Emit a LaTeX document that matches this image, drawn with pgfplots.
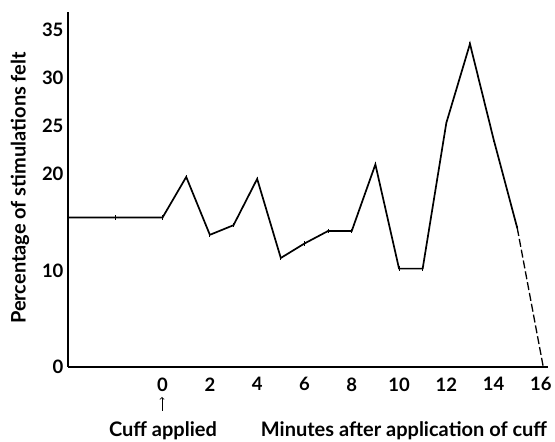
\documentclass[border=0pt]{standalone}
\usepackage{fontspec}
\setmainfont{Lato}
\usepackage{pgfplots}
\pgfplotsset{compat=1.18}
\begin{document}
\begin{tikzpicture}
\path[use as bounding box] (-68pt,-75pt) rectangle (487pt,367pt);
\begin{axis}[
  at={(0,0)}, anchor=south west,
  scale only axis,
  width=480pt, height=355pt,
  xmin=-4, xmax=16.3,
  ymin=0, ymax=36.8,
  axis lines=left,
  axis line style={-, line width=2pt},
  xtick={0,2,4,6,8,10,12,14,16},
  ytick={0,10,20,25,30,35},
  major tick length=0pt,
  tick label style={font=\fontsize{18.5}{20}\selectfont\bfseries},
  yticklabel style={xshift=-1pt},
  xticklabel style={yshift=-7pt},
  /pgf/number format/assume math mode=true,
  clip=false,
]
\addplot[black, line width=1.7pt, mark=|, mark size=2.2pt, mark options={line width=1pt}] coordinates {
(-4,15.5) (-2,15.5) (0,15.5) (1,19.7) (2,13.7) (3,14.7) (4,19.5) (5,11.3) (6,12.8) (7,14.1) (8,14.1) (9,21.0) (10,10.2) (11,10.2) (12,25.3) (13,33.5) (14,23.6) (15,14.4)
};
\addplot[black, line width=1.3pt, dash pattern=on 8pt off 3pt] coordinates {(15,14.4) (16.1,0)};
\end{axis}
\node[rotate=90, font=\fontsize{20}{22}\selectfont\bfseries] at (-48pt,179pt) {Percentage of stimulations felt};
\draw[->, line width=0.8pt] (94pt,-44pt) -- (94pt,-30pt);
\node[font=\fontsize{20}{22}\selectfont\bfseries] at (95pt,-64pt) {Cuff applied};
\node[font=\fontsize{20}{22}\selectfont\bfseries] at (336pt,-64pt) {Minutes after application of cuff};
\end{tikzpicture}
\end{document}
